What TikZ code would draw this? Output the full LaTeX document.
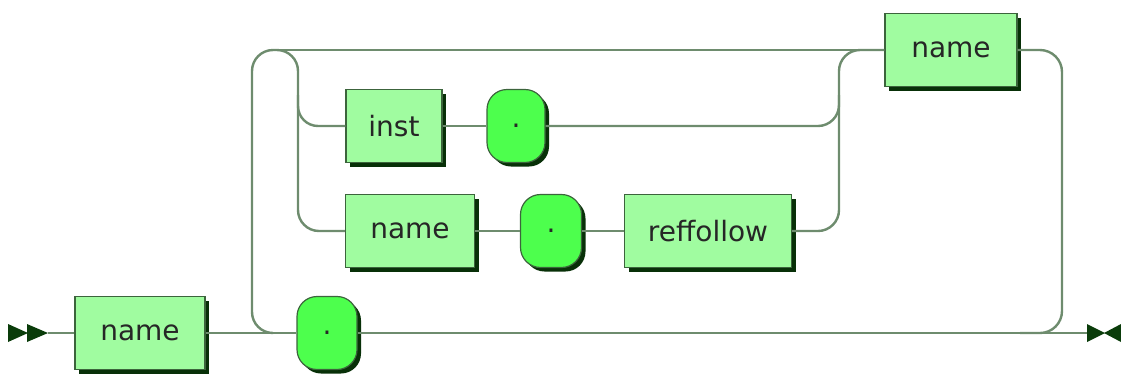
\documentclass[tikz,border=0pt]{standalone}
\usepackage{fontspec}
\setmainfont{DejaVu Sans}
\usetikzlibrary{shadows}
\definecolor{ntfill}{RGB}{160,252,160}
\definecolor{tfill}{RGB}{77,255,77}
\definecolor{bord}{RGB}{60,100,60}
\definecolor{shd}{RGB}{8,48,8}
\definecolor{wire}{RGB}{110,140,110}
\definecolor{arr}{RGB}{10,60,10}
\tikzset{
  box/.style={draw=bord, line width=1.2pt, inner sep=0pt, minimum height=73pt,
    font=\fontsize{28}{30}\selectfont, text=black!85,
    drop shadow={shadow xshift=4pt, shadow yshift=-4pt, fill=shd, opacity=1}},
  ntbox/.style={box, rectangle, fill=ntfill},
  tbox/.style={box, rectangle, rounded corners=20pt, fill=tfill},
  wireline/.style={draw=wire, line width=2.4pt},
  arrowhead/.style={fill=arr, draw=none}
}
\begin{document}
\begin{tikzpicture}[x=1pt,y=-1pt]
\useasboundingbox (0,0) rectangle (1121,376);
% nodes
\node[ntbox, minimum width=130pt] (n1) at (140,333) {name};
\node[tbox, minimum width=60pt] (d1) at (327,333) {.};
\node[ntbox, minimum width=132pt] (n4) at (951,50) {name};
\node[ntbox, minimum width=96pt] (inst) at (394,126) {inst};
\node[tbox, minimum width=58pt] (d2) at (516,126) {.};
\node[ntbox, minimum width=129pt] (n2) at (410,231) {name};
\node[tbox, minimum width=61pt] (d3) at (551,231) {.};
\node[ntbox, minimum width=167pt] (rf) at (708,231) {reffollow};
% coordinates
\coordinate (s) at (48,333);
\coordinate (e) at (1087,333);
\coordinate (split) at (272,333);
\coordinate (topL) at (275,50);
\coordinate (merge) at (1020,333);
% start / end arrows
\fill[arrowhead] (8,324) -- (28,333) -- (8,342) -- cycle;
\fill[arrowhead] (27,324) -- (48,333) -- (27,342) -- cycle;
\fill[arrowhead] (1087,324) -- (1105,333) -- (1087,342) -- cycle;
\fill[arrowhead] (1121,324) -- (1104,333) -- (1121,342) -- cycle;
\begin{scope}[wireline]
% main line
\draw (s) -- (n1.west);
\draw (n1.east) -- (d1.west);
\draw (d1.east) -- (e);
% loop up from main line and branch down
\draw[rounded corners=21pt] (split) -| (252,50) -| (298,231) -- (n2.west);
\draw (topL) -- (n4.west);
\draw[rounded corners=20pt] (298,95) |- (inst.west);
% inst row
\draw (inst.east) -- (d2.west);
\draw[rounded corners=21pt] (d2.east) -| (839,95);
% name row
\draw (n2.east) -- (d3.west);
\draw (d3.east) -- (rf.west);
\draw[rounded corners=21pt] (rf.east) -| (839,50) -- (n4.west);
% after top name
\draw[rounded corners=22pt] (n4.east) -| (1062,333) -- (merge);
\end{scope}
\end{tikzpicture}
\end{document}
